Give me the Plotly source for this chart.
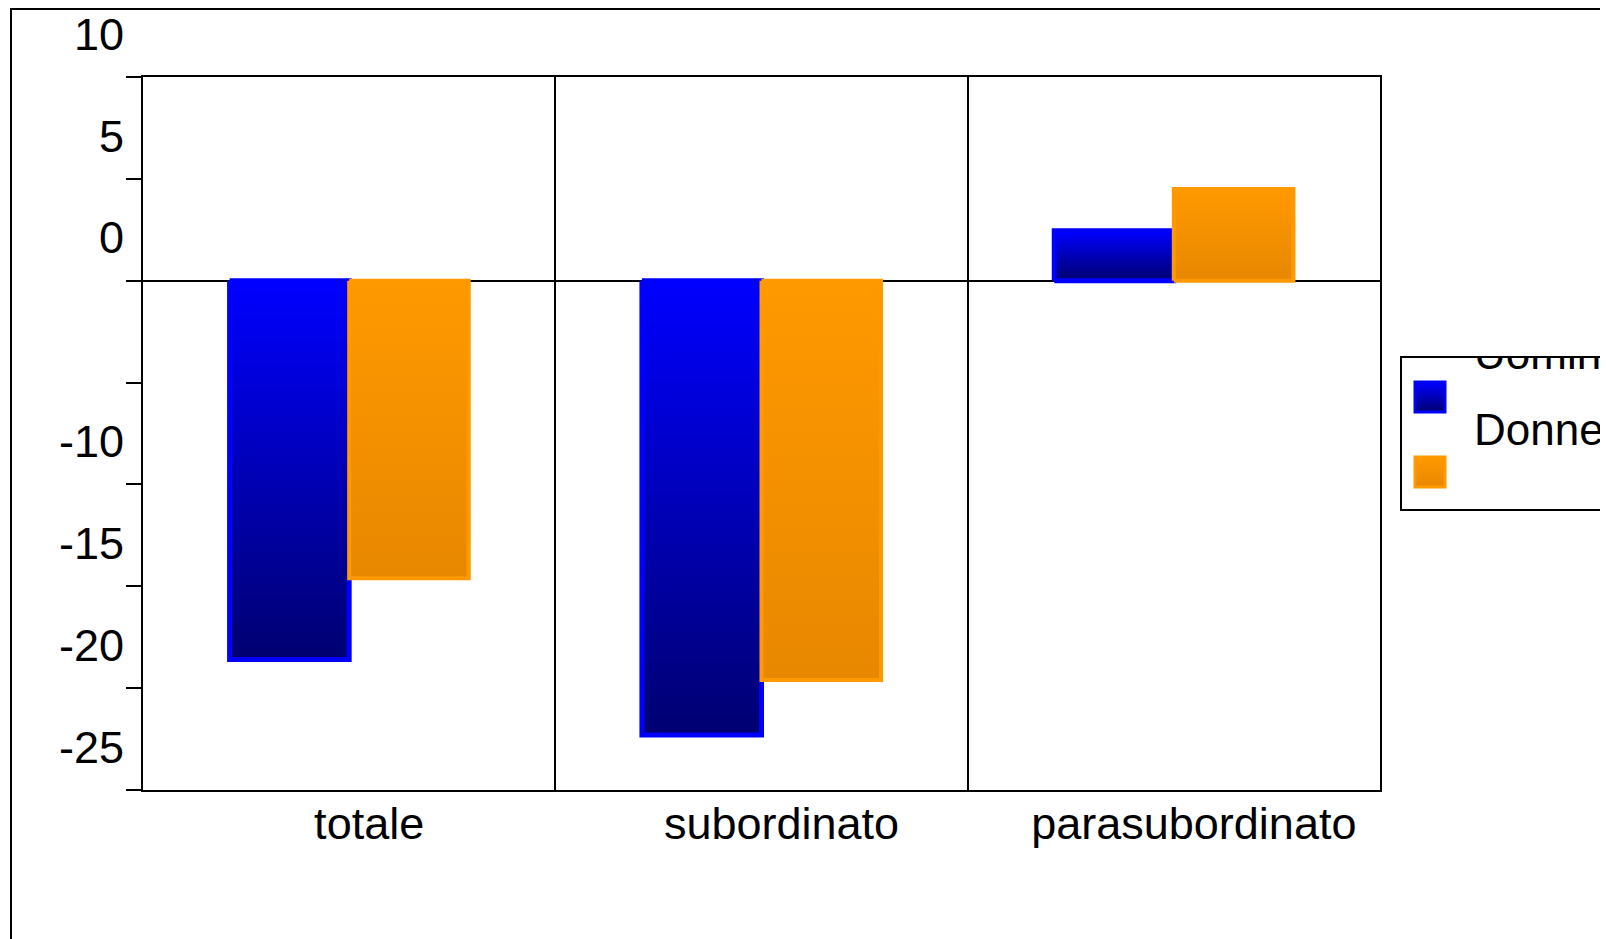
import plotly.graph_objects as go

categories = ["totale", "subordinato", "parasubordinato"]
uomini = [-18.6, -22.3, 2.45]
donne = [-14.6, -19.6, 4.5]
series_names = ["Uomini", "Donne"]
y_ticks = [-25, -20, -15, -10, -5, 0, 5, 10]
y_labels = ["-25", "-20", "-15", "-10", "", "0", "5", "10"]

# canvas sits 8px inside the page (body margin)
W, H = 1600, 931
L, R, T, B = 135, 1372, 69, 782          # main plot area, canvas px
LG_L, LG_T, LG_B = 1394, 350, 501        # legend box, canvas px
half = 0.29                              # width of one bar in category units

colors = ["#0000FF", "#FF9900"]
darks = ["#000070", "#E88800"]
widths = [5, 4]
values = [uomini, donne]
sides = [-1, 0]

fig = go.Figure()
for i, cat in enumerate(categories):
    for s in range(2):
        x0 = i + sides[s] * half
        x1 = x0 + half
        v = values[s][i]
        fig.add_trace(go.Scatter(
            x=[x0, x1, x1, x0, x0], y=[0, 0, v, v, 0],
            mode="lines", fill="toself",
            line=dict(color=colors[s], width=widths[s]),
            fillgradient=dict(type="vertical",
                              colorscale=[[0, darks[s]], [1, colors[s]]]),
            name=series_names[s], showlegend=False, hoverinfo="skip",
        ))

# hand-made legend on its own little axes (so the text gets clipped like the original)
fig.add_trace(go.Scatter(
    x=[28, 28], y=[39, 114], mode="markers", xaxis="x2", yaxis="y2",
    marker=dict(symbol="square", size=30, color=colors,
                gradient=dict(type="vertical", color=darks),
                line=dict(color=colors, width=3)),
    showlegend=False, hoverinfo="skip",
))
fig.add_trace(go.Scatter(
    x=[72, 72], y=[0, 76], mode="text", xaxis="x2", yaxis="y2",
    text=series_names, textposition="middle right",
    textfont=dict(family="Liberation Sans", size=44, color="black"),
    cliponaxis=True, showlegend=False, hoverinfo="skip",
))

fig.update_layout(
    xaxis=dict(
        domain=[L / W, R / W], range=[-0.5, 2.5],
        tickvals=[0, 1, 2], ticktext=categories,
        ticks="", showgrid=False, zeroline=False, automargin=False,
        showline=True, linecolor="black", linewidth=2, mirror=True,
        ticklabelshift=20, ticklabelstandoff=-7,
        tickfont=dict(family="Liberation Sans", size=45, color="black"),
        minor=dict(tickvals=[0.5, 1.5], showgrid=True, gridcolor="black",
                   gridwidth=1.5, ticks=""),
    ),
    yaxis=dict(
        domain=[(H - B) / H, (H - T) / H], range=[-25, 10],
        tickvals=y_ticks, ticktext=y_labels,
        ticks="outside", ticklen=15, tickwidth=2, tickcolor="black",
        showgrid=False, zeroline=True, zerolinecolor="black", zerolinewidth=1.5,
        showline=True, linecolor="black", linewidth=2, mirror=True,
        automargin=False, ticklabelshift=-43, ticklabelstandoff=-7,
        tickfont=dict(family="Liberation Sans", size=45, color="black"),
    ),
    xaxis2=dict(
        domain=[LG_L / W, 1], range=[0, W - LG_L], anchor="y2",
        showticklabels=False, ticks="", showgrid=False, zeroline=False,
        showline=True, linecolor="black", linewidth=2, mirror=True,
        fixedrange=True,
    ),
    yaxis2=dict(
        domain=[(H - LG_B) / H, (H - LG_T) / H], range=[LG_B - LG_T, 0], anchor="x2",
        showticklabels=False, ticks="", showgrid=False, zeroline=False,
        showline=True, linecolor="black", linewidth=2, mirror=False,
        fixedrange=True,
    ),
    width=W, height=H,
    margin=dict(l=0, r=0, t=0, b=0),
    plot_bgcolor="white", paper_bgcolor="white",
    font=dict(family="Liberation Sans", color="black"),
    showlegend=False,
)

# outer frame, partly outside the canvas
fig.add_shape(type="rect", xref="paper", yref="paper",
              x0=3 / W, x1=1.05, y0=-0.05, y1=1 - 1 / H,
              line=dict(color="black", width=2), fillcolor="rgba(0,0,0,0)", layer="below")

fig.write_html("out.html")
